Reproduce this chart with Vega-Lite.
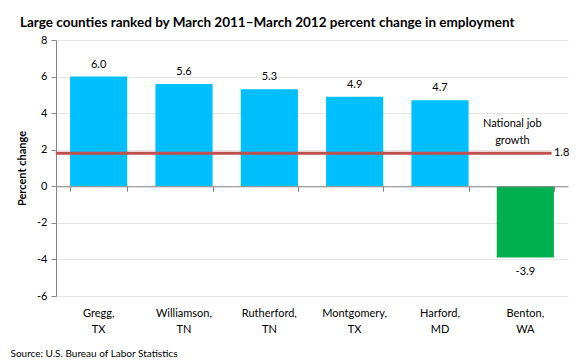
{
  "$schema": "https://vega.github.io/schema/vega-lite/v6.json",
  "width": 512,
  "height": 256,
  "autosize": {"type": "none"},
  "padding": {"left": 56, "top": 40, "right": 12, "bottom": 67},
  "background": "white",
  "config": {
    "view": {"stroke": null},
    "font": "Lato",
    "axis": {"labelFont": "Lato", "titleFont": "Lato", "labelColor": "#000000", "titleColor": "#000000"}
  },
  "title": {
    "text": "Large counties ranked by March 2011\u2013March 2012 percent change in employment",
    "anchor": "start",
    "frame": "group",
    "dx": -36,
    "offset": 5,
    "fontSize": 13.5,
    "fontWeight": "bold",
    "font": "Lato",
    "color": "#000000"
  },
  "data": {
    "values": [
      {"county": "Gregg, TX", "value": 6.0},
      {"county": "Williamson, TN", "value": 5.6},
      {"county": "Rutherford, TN", "value": 5.3},
      {"county": "Montgomery, TX", "value": 4.9},
      {"county": "Harford, MD", "value": 4.7},
      {"county": "Benton, WA", "value": -3.9}
    ]
  },
  "resolve": {"axis": {"x": "independent", "y": "independent"}},
  "layer": [
    {
      "mark": {"type": "bar", "stroke": null},
      "encoding": {
        "x": {
          "field": "county",
          "type": "nominal",
          "sort": null,
          "scale": {
            "domain": ["Gregg, TX", "Williamson, TN", "Rutherford, TN", "Montgomery, TX", "Harford, MD", "Benton, WA"],
            "paddingInner": 0.33,
            "paddingOuter": 0.165
          },
          "axis": {
            "orient": "bottom",
            "domain": false,
            "ticks": false,
            "grid": false,
            "labelAngle": 0,
            "labelFontSize": 11,
            "labelLineHeight": 16,
            "labelPadding": 11,
            "labelBaseline": "top",
            "labelExpr": "split(datum.label, ' ')",
            "title": "Source: U.S. Bureau of Labor Statistics",
            "titleAnchor": "start",
            "titleAlign": "left",
            "titleBaseline": "alphabetic",
            "titleX": -46,
            "titleY": 60,
            "titleFontSize": 10,
            "titleFontWeight": "normal"
          }
        },
        "y": {
          "field": "value",
          "type": "quantitative",
          "scale": {"domain": [-6, 8], "nice": false, "zero": false},
          "axis": {
            "values": [-6, -4, -2, 0, 2, 4, 6, 8],
            "labelExpr": "'' + datum.value",
            "labelOverlap": false,
            "title": "Percent change",
            "titleFontSize": 11,
            "titleFontWeight": "bold",
            "titlePadding": 9,
            "labelFontSize": 11,
            "labelPadding": 4,
            "domainColor": "#868686",
            "tickColor": "#868686",
            "tickSize": 5,
            "gridColor": "#E6E6E6",
            "gridWidth": 1
          }
        },
        "color": {
          "condition": {"test": "datum.value < 0", "value": "#00B050"},
          "value": "#00BFFF"
        }
      }
    },
    {
      "mark": {"type": "text", "baseline": "bottom", "dy": -7, "fontSize": 11, "color": "#000000", "text": {"expr": "format(datum.value, '.1f')"}},
      "transform": [{"filter": "datum.value >= 0"}],
      "encoding": {
        "x": {"field": "county", "type": "nominal", "sort": null, "axis": null},
        "y": {"field": "value", "type": "quantitative", "axis": null}
      }
    },
    {
      "mark": {"type": "text", "baseline": "top", "dy": 8, "fontSize": 11, "color": "#000000", "text": {"expr": "replace(format(datum.value, '.1f'), '\u2212', '-')"}},
      "transform": [{"filter": "datum.value < 0"}],
      "encoding": {
        "x": {"field": "county", "type": "nominal", "sort": null, "axis": null},
        "y": {"field": "value", "type": "quantitative", "axis": null}
      }
    },
    {
      "data": {"values": [{"series": "National job growth", "rate": 1.8, "from": "Gregg, TX", "to": "Benton, WA"}]},
      "mark": {"type": "rule", "color": "#C0504D", "strokeWidth": 3},
      "encoding": {
        "x": {"field": "from", "type": "nominal", "sort": null, "bandPosition": -0.25, "axis": null},
        "x2": {"field": "to", "bandPosition": 0.96},
        "y": {"field": "rate", "type": "quantitative", "axis": null}
      }
    },
    {
      "data": {"values": [{"series": "National job growth", "rate": 1.8, "from": "Gregg, TX", "to": "Benton, WA"}]},
      "mark": {"type": "text", "align": "left", "baseline": "middle", "dx": 0, "fontSize": 11, "color": "#000000"},
      "encoding": {
        "x": {"field": "to", "type": "nominal", "sort": null, "bandPosition": 1, "axis": null},
        "y": {"field": "rate", "type": "quantitative", "axis": null},
        "text": {"field": "rate", "type": "quantitative", "format": ".1f"}
      }
    },
    {
      "data": {"values": [{"series": "National job growth", "rate": 1.8, "from": "Gregg, TX", "to": "Benton, WA"}]},
      "mark": {"type": "text", "align": "center", "baseline": "bottom", "dx": -13, "dy": -24, "fontSize": 11, "lineHeight": 17, "color": "#000000", "text": ["National job", "growth"]},
      "encoding": {
        "x": {"field": "to", "type": "nominal", "sort": null, "bandPosition": 0.5, "axis": null},
        "y": {"field": "rate", "type": "quantitative", "axis": null}
      }
    },
    {
      "mark": {"type": "rule", "opacity": 0},
      "encoding": {
        "x": {
          "field": "county",
          "type": "nominal",
          "sort": null,
          "axis": {
            "orient": "top",
            "offset": -146.29,
            "labels": false,
            "title": null,
            "grid": false,
            "domain": true,
            "domainColor": "#868686",
            "tickColor": "#868686",
            "tickSize": -5,
            "tickBand": "extent",
            "zindex": 2
          }
        },
        "y": {"field": "value", "type": "quantitative", "axis": null}
      }
    }
  ]
}
